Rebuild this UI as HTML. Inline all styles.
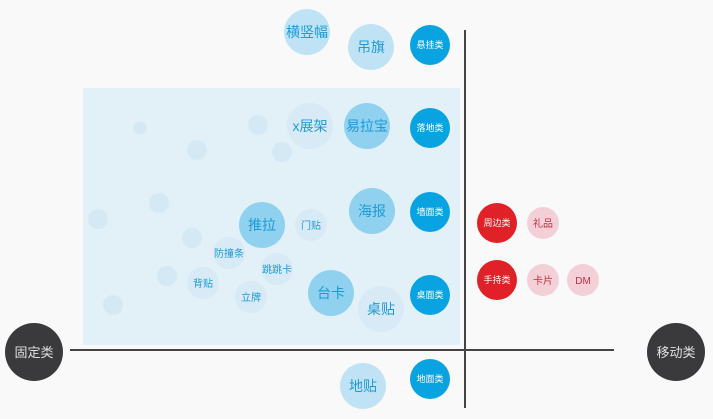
<!DOCTYPE html>
<html><head><meta charset="utf-8"><style>
html,body{margin:0;padding:0;background:#f9f9f9;}
svg{display:block;font-family:"Liberation Sans","Noto Sans CJK SC",sans-serif;}
</style></head><body>
<svg width="713" height="419" viewBox="0 0 713 419" xmlns="http://www.w3.org/2000/svg">
<rect x="0" y="0" width="713" height="419" fill="#f9f9f9"/>
<rect x="83" y="88" width="377" height="257" fill="#e2f0f8"/>
<g fill="#d5e9f5">
<circle cx="140" cy="128" r="6.5"/>
<circle cx="258" cy="125" r="10"/>
<circle cx="197" cy="150" r="10"/>
<circle cx="282" cy="152" r="10"/>
<circle cx="159" cy="203" r="10"/>
<circle cx="98" cy="219" r="10"/>
<circle cx="192" cy="238" r="10"/>
<circle cx="167" cy="276" r="10"/>
<circle cx="113" cy="305" r="10"/>
</g>
<line x1="70" y1="350" x2="614" y2="350" stroke="#444" stroke-width="2"/>
<line x1="465" y1="30" x2="465" y2="408" stroke="#444" stroke-width="2"/>
<circle cx="34" cy="352" r="29" fill="#3a3a3c"/>
<text x="34" y="357" font-size="13" fill="#e0e0e0" text-anchor="middle">固定类</text>
<circle cx="676" cy="352" r="29" fill="#3a3a3c"/>
<text x="676" y="357" font-size="13" fill="#e0e0e0" text-anchor="middle">移动类</text>
<g fill="#0aa3e2">
<circle cx="430" cy="45" r="20"/>
<circle cx="430" cy="128" r="20"/>
<circle cx="430" cy="212" r="20"/>
<circle cx="430" cy="295" r="20"/>
<circle cx="430" cy="379" r="20"/>
</g>
<g font-size="9" fill="#ffffff" text-anchor="middle">
<text x="430" y="48">悬挂类</text>
<text x="430" y="131">落地类</text>
<text x="430" y="215">墙面类</text>
<text x="430" y="298">桌面类</text>
<text x="430" y="382">地面类</text>
</g>
<g fill="#e02127">
<circle cx="497" cy="223" r="20"/>
<circle cx="497" cy="280" r="20"/>
</g>
<g font-size="9" fill="#ffffff" text-anchor="middle">
<text x="497" y="226">周边类</text>
<text x="497" y="283">手持类</text>
</g>
<g fill="#f3d0d8">
<circle cx="543" cy="223" r="16"/>
<circle cx="543" cy="280" r="16"/>
<circle cx="583" cy="280" r="16"/>
</g>
<g font-size="10" fill="#c0303a" text-anchor="middle">
<text x="543" y="227">礼品</text>
<text x="543" y="284">卡片</text>
<text x="583" y="284">DM</text>
</g>
<!-- outside light circles -->
<g fill="#bfe3f4">
<circle cx="307" cy="32" r="23"/>
<circle cx="371" cy="47" r="23"/>
<circle cx="363" cy="386" r="23"/>
</g>
<!-- medium circles -->
<g fill="#8fd1ef">
<circle cx="367" cy="126" r="23"/>
<circle cx="372" cy="211" r="23"/>
<circle cx="262" cy="225" r="23"/>
<circle cx="331" cy="293" r="23"/>
</g>
<!-- light circles inside -->
<g fill="#d8eaf5">
<circle cx="310" cy="126" r="23"/>
<circle cx="381" cy="309" r="23"/>
<circle cx="311" cy="225" r="16"/>
<circle cx="229" cy="253" r="16"/>
<circle cx="277" cy="269" r="16"/>
<circle cx="203" cy="283" r="16"/>
<circle cx="251" cy="297" r="16"/>
</g>
<g font-size="14" fill="#1e9ad6" text-anchor="middle">
<text x="307" y="37">横竖幅</text>
<text x="371" y="52">吊旗</text>
<text x="310" y="131">x展架</text>
<text x="367" y="131">易拉宝</text>
<text x="372" y="216">海报</text>
<text x="262" y="230">推拉</text>
<text x="331" y="298">台卡</text>
<text x="381" y="314">桌贴</text>
<text x="363" y="391">地贴</text>
</g>
<g font-size="10" fill="#1e9ad6" text-anchor="middle">
<text x="311" y="229">门贴</text>
<text x="229" y="257">防撞条</text>
<text x="277" y="273">跳跳卡</text>
<text x="203" y="287">背贴</text>
<text x="251" y="301">立牌</text>
</g>
</svg>
</body></html>
